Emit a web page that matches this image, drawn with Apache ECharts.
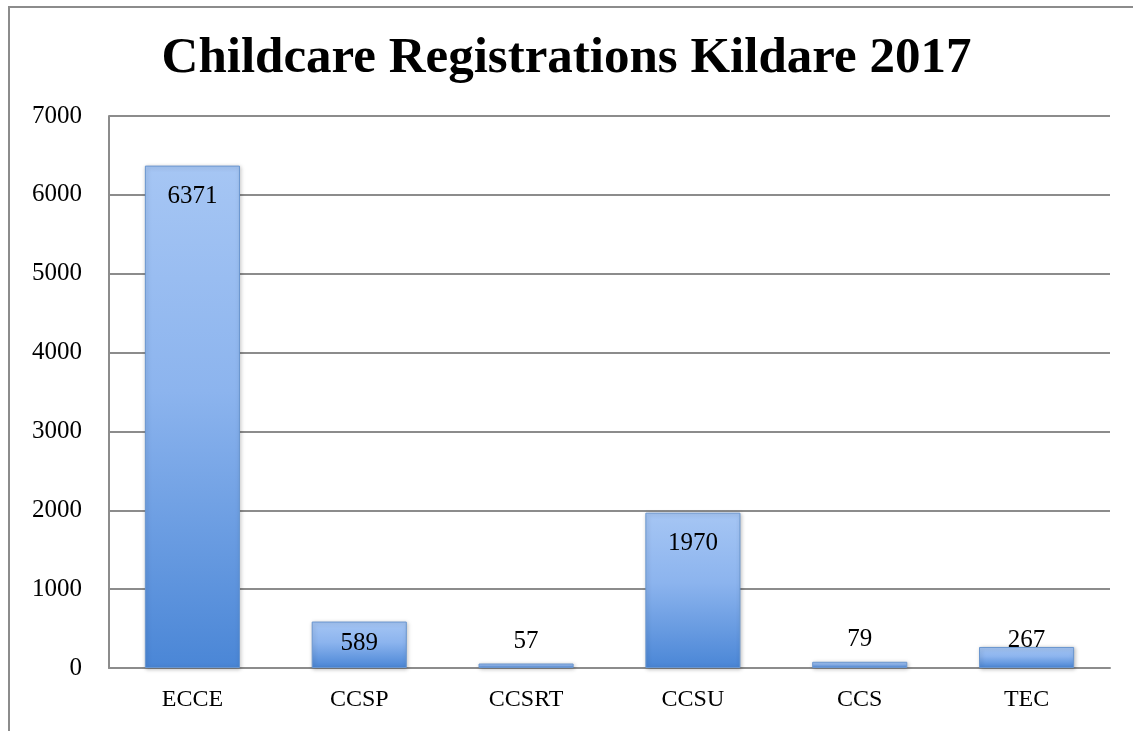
<!DOCTYPE html>
<html>
<head>
<meta charset="utf-8">
<script src="https://cdn.jsdelivr.net/npm/echarts@6/dist/echarts.min.js"></script>
<style>
  html, body { margin:0; padding:0; background:#fff; }
  #frame { position:absolute; left:8px; top:6px; width:1200px; height:800px;
           border-top:2px solid #8c8c8c; border-left:2px solid #8c8c8c; }
  #chart { position:absolute; left:0; top:0; width:1133px; height:731px; }
</style>
</head>
<body>
<div id="frame"></div>
<div id="chart"></div>
<script>
var titleText = 'Childcare Registrations Kildare 2017';
var categories = ['ECCE', 'CCSP', 'CCSRT', 'CCSU', 'CCS', 'TEC'];
var registrations = [6371, 589, 57, 1970, 79, 267];
var yTicks = [0, 1000, 2000, 3000, 4000, 5000, 6000, 7000];

var fontFam = '"Liberation Serif", "DejaVu Serif", serif';

/* label placement like the original: inside the top of tall bars, above short ones */
var barData = registrations.map(function (v) {
  var lab;
  if (v >= 1000) {
    lab = { position: 'insideTop', distance: 18 };
  } else if (v >= 500) {
    lab = { position: 'insideTop', distance: 9 };
  } else if (v >= 200) {
    lab = { position: 'top', distance: -6 };
  } else {
    lab = { position: 'top', distance: 10 };
  }
  return { value: v, label: lab };
});

var myChart = echarts.init(document.getElementById('chart'));
var option = {
  animation: false,
  title: {
    text: titleText,
    left: 'center',
    top: 28,
    textStyle: { fontFamily: fontFam, fontWeight: 'bold', fontSize: 51, color: '#000' }
  },
  grid: { left: 109, right: 23, top: 116, bottom: 63 },
  xAxis: {
    type: 'category',
    data: categories,
    axisTick: { show: false },
    axisLine: { lineStyle: { color: '#8c8c8c', width: 2 } },
    axisLabel: { fontFamily: fontFam, fontSize: 24, color: '#000', margin: 20 }
  },
  yAxis: {
    type: 'value',
    min: yTicks[0],
    max: yTicks[yTicks.length - 1],
    interval: 1000,
    axisLine: { show: true, lineStyle: { color: '#8c8c8c', width: 2 } },
    axisTick: { show: false },
    splitLine: { lineStyle: { color: '#8c8c8c', width: 2 } },
    axisLabel: {
      fontFamily: fontFam, fontSize: 25, color: '#000', margin: 27,
      formatter: function (v) { return String(v); }
    }
  },
  series: [{
    type: 'bar',
    data: barData,
    barWidth: '57%',
    itemStyle: {
      color: {
        type: 'linear', x: 0, y: 0, x2: 0, y2: 1,
        colorStops: [
          { offset: 0, color: '#a6c6f4' },
          { offset: 0.45, color: '#8cb4ee' },
          { offset: 1, color: '#4a86d6' }
        ]
      },
      borderColor: '#6a96cf',
      borderWidth: 1,
      shadowColor: 'rgba(0,0,0,0.25)',
      shadowBlur: 4,
      shadowOffsetX: 1,
      shadowOffsetY: 1
    },
    label: {
      show: true,
      fontFamily: fontFam,
      fontSize: 25,
      color: '#000'
    }
  }]
};
myChart.setOption(option);
</script>
</body>
</html>
